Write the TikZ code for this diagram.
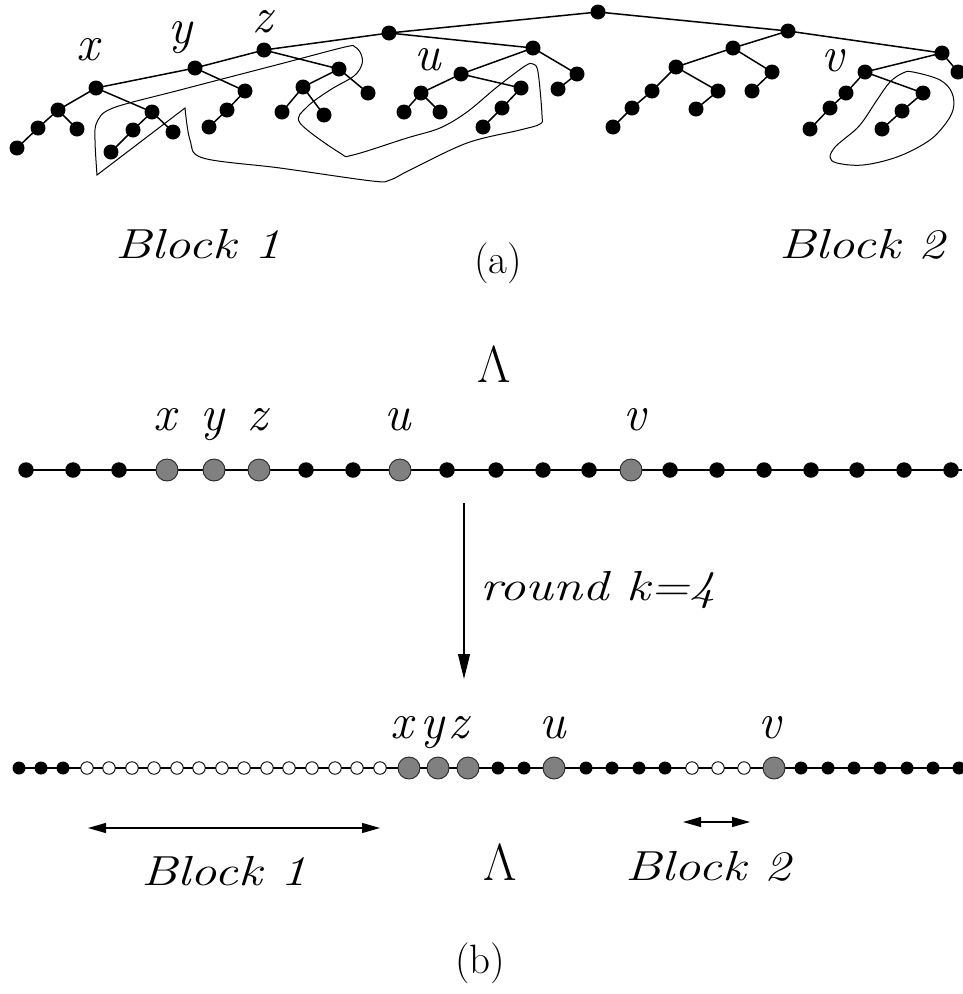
\documentclass[tikz,border=0pt]{standalone}
\usepackage{graphicx}
\usetikzlibrary{arrows.meta,backgrounds}
\tikzset{
 tdot/.style={circle,fill=black,inner sep=0pt,minimum size=15pt},
 edge/.style={line width=1.5pt},
 contour/.style={line width=1pt},
 bdot/.style={circle,fill=black,inner sep=0pt,minimum size=15.5pt},
 gdot/.style={circle,fill=gray,draw=black!85,line width=0.9pt,inner sep=0pt,minimum size=22pt},
 sdot/.style={circle,fill=black,inner sep=0pt,minimum size=13pt},
 wdot/.style={circle,fill=white,draw=black,line width=0.9pt,inner sep=0pt,minimum size=12.5pt},
 lab/.style={inner sep=0pt,anchor=base},
 chainline/.style={line width=1.6pt},
 arr/.style={line width=1.2pt,-{Triangle[width=12pt,length=25pt]}},
 barr/.style={line width=1.2pt,{Triangle[width=10pt,length=18pt]}-{Triangle[width=10pt,length=18pt]}},
}
\newcommand\mlab[1]{\fontsize{50}{50}\selectfont\itshape #1}
\newcommand\tlab[1]{\scalebox{1.25}[1]{\fontsize{42}{42}\selectfont\itshape #1}}
\newcommand\rlab[1]{\fontsize{41}{41}\selectfont #1}
\newcommand\glab{\fontsize{52}{52}\selectfont Λ}
\begin{document}
\begin{tikzpicture}[x=1pt,y=-1pt]
\useasboundingbox (0,0) rectangle (962,994);
% ---------- (a) tree ----------
\foreach \n/\x/\y in {R/598/12, A/389/33, z/264/50, y/195/68, x/96/88, xa/58/110, xaa/38/128, xaaa/17/148, xab/77/129, xb/152/112, xba/133/130, xbaa/111/152, xbb/173/132, ya/245/91, yaa/227/110, yaaa/209/127, za/339/69, zaa/303/87, zaaa/282/112, zaab/324/115, zab/368/93, B/533/48, u/461/74, ua/421/93, uaa/404/112, uab/440/112, ub/521/88, uba/502/108, ubaa/483/127, Bb/577/74, Bba/558/89, C/788/31, D/733/48, Da/676/67, Daa/652/91, Daaa/632/108, Daaaa/613/127, Dab/718/91, Daba/696/109, Db/772/72, Dba/752/91, V/942/53, v/865/72, va/846/93, vaa/830/108, vaaa/810/129, vb/923/93, vba/902/111, vbaa/882/129, Vb/958/72}
  \node[tdot] (t\n) at (\x,\y) {};
\begin{scope}[on background layer]
\foreach \a/\b in {R/A, A/z, z/y, y/x, x/xa, xa/xaa, xaa/xaaa, xa/xab, x/xb, xb/xba, xba/xbaa, xb/xbb, y/ya, ya/yaa, yaa/yaaa, z/za, za/zaa, zaa/zaaa, zaa/zaab, za/zab, A/B, B/u, u/ua, ua/uaa, ua/uab, u/ub, ub/uba, uba/ubaa, B/Bb, Bb/Bba, R/C, C/D, D/Da, Da/Daa, Daa/Daaa, Daaa/Daaaa, Da/Dab, Dab/Daba, D/Db, Db/Dba, C/V, V/v, v/va, va/vaa, vaa/vaaa, v/vb, vb/vba, vba/vbaa, V/Vb}
  \draw[edge] (t\a.center) -- (t\b.center);
\end{scope}
\draw[contour] plot[smooth, tension=0.55] coordinates {(185,108) (190,140) (203,158) (280,168) (372,181) (390,180) (410,170) (467,143) (520,130) (540,124) (542,115) (538,72) (533,64) (525,66) (497,87) (467,112) (440,128) (407,138) (353,155) (340,153) (300,123) (307,107) (330,90) (354,76) (362,64) (361,54) (355,47) (345,47) (280,64) (180,90) (113,108) (97,122) (95,140) (97,175)} -- cycle;
\draw[contour] plot[smooth cycle, tension=0.6] coordinates {(913,72) (940,80) (952,93) (953,110) (943,127) (927,142) (897,157) (863,165) (837,163) (830,157) (835,147) (843,140) (860,125) (877,100) (890,82) (903,73)};
\node[lab] (lx) at (88,60) {\mlab{x}};
\node[lab] (ly) at (180,43) {\mlab{y}};
\node[lab] (lz) at (262,32) {\mlab{z}};
\node[lab] (lu) at (428,70) {\mlab{u}};
\node[lab] (lv) at (833,71) {\mlab{v}};
\node[lab] (blk1a) at (198,258) {\tlab{Block 1}};
\node[lab] (blk2a) at (862,258) {\tlab{Block 2}};
\node[lab] (capa) at (498,273) {\rlab{(a)}};
% ---------- (b) ----------
\node[lab] (lam1) at (494,382) {\glab};
\foreach \t/\x [count=\i] in {bdot/26, bdot/73, bdot/119, gdot/167, gdot/214, gdot/259, bdot/306, bdot/353, gdot/400, bdot/447, bdot/496, bdot/543, bdot/589, gdot/631, bdot/670, bdot/717, bdot/764, bdot/811, bdot/857, bdot/904, bdot/951}
  \node[\t] (p\i) at (\x,470) {};
\coordinate (pend) at (962,470);
\begin{scope}[on background layer]
\foreach \i [evaluate=\i as \j using int(\i+1)] in {1,...,20}
  \draw[chainline] (p\i.center) -- (p\j.center);
\draw[chainline] (p21.center) -- (pend);
\end{scope}
\node[lab] (tx) at (165,430) {\mlab{x}};
\node[lab] (ty) at (212,430) {\mlab{y}};
\node[lab] (tz) at (257,430) {\mlab{z}};
\node[lab] (tu) at (398,430) {\mlab{u}};
\node[lab] (tv) at (635,430) {\mlab{v}};
\coordinate (arrs) at (464,503);
\coordinate (arre) at (464,679);
\draw[arr] (arrs) -- (arre);
\node[lab,anchor=base west] (round) at (480,600) {\tlab{round k=4}};
\foreach \t/\x [count=\i] in {sdot/19, sdot/41, sdot/63, wdot/87, wdot/109, wdot/132, wdot/154, wdot/177, wdot/199, wdot/222, wdot/244, wdot/267, wdot/289, wdot/312, wdot/335, wdot/357, wdot/380, gdot/409, gdot/438, gdot/468, sdot/498, sdot/524, gdot/554, sdot/586, sdot/612, sdot/639, sdot/665, wdot/692, wdot/718, wdot/744, gdot/774, sdot/801, sdot/828, sdot/854, sdot/880, sdot/907, sdot/933, sdot/959}
  \node[\t] (q\i) at (\x,768) {};
\coordinate (qend) at (962,768);
\begin{scope}[on background layer]
\foreach \i [evaluate=\i as \j using int(\i+1)] in {1,...,37}
  \draw[chainline] (q\i.center) -- (q\j.center);
\draw[chainline] (q38.center) -- (qend);
\end{scope}
\node[lab] (bx) at (402,738) {\mlab{x}};
\node[lab] (by) at (432,738) {\mlab{y}};
\node[lab] (bz) at (458,738) {\mlab{z}};
\node[lab] (bu) at (553,738) {\mlab{u}};
\node[lab] (bv) at (770,738) {\mlab{v}};
\coordinate (b1l) at (88,828);
\coordinate (b1r) at (380,828);
\draw[barr] (b1l) -- (b1r);
\coordinate (b2l) at (683,822);
\coordinate (b2r) at (750,822);
\draw[barr] (b2l) -- (b2r);
\node[lab] (blk1b) at (224,885) {\tlab{Block 1}};
\node[lab] (lam2) at (500,880) {\glab};
\node[lab] (blk2b) at (708,880) {\tlab{Block 2}};
\node[lab] (capb) at (480,973) {\rlab{(b)}};
\end{tikzpicture}
\end{document}
